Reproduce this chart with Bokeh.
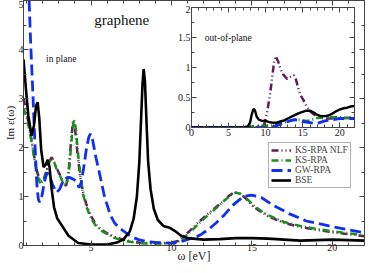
from bokeh.plotting import figure
from bokeh.models import (Range1d, LinearAxis, SingleIntervalTicker, Legend, LegendItem,
                          CustomJSTickFormatter)
from bokeh.layouts import column
from bokeh.core.properties import value
from bokeh.embed import file_html
from bokeh.resources import INLINE

# ---------------- data: in-plane (main) ----------------
bse_x = [0.8, 0.95, 1.1, 1.3, 1.45, 1.58, 1.68, 1.78, 1.9, 2.05, 2.2, 2.3, 2.42, 2.55, 2.7, 2.9, 3.2, 3.6,
         4.2, 5.0, 6.0, 6.6, 7.0, 7.4, 7.65, 7.85, 8.0, 8.1, 8.2, 8.27, 8.35, 8.45, 8.55, 8.7, 8.9, 9.15,
         9.5, 9.9, 10.2, 10.6, 11.0, 12.0, 13.0, 14.0, 15.0, 16.0, 17.0, 18.0, 19.0, 20.0, 21.0, 22.0]
bse_y = [3.8, 3.2, 2.65, 2.24, 2.45, 2.85, 2.92, 2.6, 1.95, 1.6, 1.66, 1.75, 1.6, 1.15, 0.78, 0.55, 0.4, 0.2,
         0.05, 0.02, 0.02, 0.06, 0.12, 0.28, 0.55, 1.0, 1.7, 2.5, 3.3, 3.6, 3.35, 2.5, 1.7, 1.15, 0.75, 0.52,
         0.4, 0.36, 0.3, 0.2, 0.15, 0.12, 0.13, 0.15, 0.15, 0.14, 0.12, 0.10, 0.11, 0.12, 0.11, 0.10]

nlf_x = [0.8, 1.0, 1.2, 1.35, 1.5, 1.65, 1.85, 2.05, 2.25, 2.4, 2.55, 2.7, 2.9, 3.1, 3.3, 3.45, 3.6, 3.75,
         3.87, 4.0, 4.15, 4.3, 4.5, 4.7, 5.0, 5.3, 5.6, 6.0, 6.5, 7.0, 7.5, 8.0, 8.5, 9.0, 9.5, 10.0, 10.4,
         10.8, 11.2, 11.6, 12.0, 12.4, 12.8, 13.2, 13.6, 13.9, 14.2, 14.6, 15.0, 15.5, 16.0, 16.5, 17.0,
         18.0, 19.0, 20.0, 21.0, 22.0]
nlf_y = [3.0, 2.7, 2.35, 2.05, 1.75, 1.5, 1.3, 1.35, 1.55, 1.72, 1.8, 1.72, 1.55, 1.42, 1.25, 1.22, 1.5, 2.1,
         2.52, 2.4, 1.9, 1.45, 1.1, 0.85, 0.6, 0.43, 0.33, 0.25, 0.17, 0.12, 0.08, 0.06, 0.05, 0.05, 0.05,
         0.06, 0.09, 0.2, 0.32, 0.45, 0.57, 0.68, 0.79, 0.9, 1.02, 1.09, 1.07, 0.97, 0.82, 0.7, 0.6, 0.53,
         0.46, 0.38, 0.32, 0.27, 0.23, 0.19]

ks_x = [0.8, 1.0, 1.2, 1.35, 1.5, 1.65, 1.85, 2.05, 2.25, 2.4, 2.57, 2.7, 2.9, 3.1, 3.3, 3.5, 3.65, 3.8,
        3.93, 4.05, 4.2, 4.35, 4.5, 4.7, 5.0, 5.3, 5.6, 6.0, 6.5, 7.0, 7.5, 8.0, 8.5, 9.0, 9.5, 10.0, 10.5,
        10.9, 11.3, 11.7, 12.1, 12.5, 12.9, 13.3, 13.7, 14.0, 14.3, 14.7, 15.1, 15.6, 16.0, 16.5, 17.0,
        18.0, 19.0, 20.0, 21.0, 22.0]
ks_y = [2.8, 2.6, 2.3, 2.02, 1.72, 1.45, 1.25, 1.32, 1.52, 1.7, 1.78, 1.7, 1.52, 1.4, 1.24, 1.25, 1.6, 2.2,
        2.58, 2.4, 1.85, 1.4, 1.05, 0.8, 0.55, 0.4, 0.31, 0.23, 0.15, 0.1, 0.07, 0.05, 0.04, 0.04, 0.04,
        0.05, 0.09, 0.2, 0.32, 0.45, 0.57, 0.68, 0.8, 0.92, 1.03, 1.08, 1.05, 0.95, 0.82, 0.7, 0.62, 0.55,
        0.48, 0.4, 0.34, 0.29, 0.25, 0.21]

gw_x = [1.15, 1.25, 1.39, 1.47, 1.55, 1.63, 1.72, 1.8, 1.95, 2.1, 2.25, 2.4, 2.6, 2.85, 3.05, 3.26, 3.45,
        3.65, 3.85, 4.06, 4.26, 4.4, 4.55, 4.7, 4.85, 4.96, 5.1, 5.3, 5.56, 5.8, 5.96, 6.2, 6.46, 6.8,
        7.16, 7.5, 7.96, 8.5, 9.16, 9.96, 10.5, 10.97, 11.5, 11.87, 12.3, 12.77, 13.3, 13.77, 14.47,
        14.97, 15.58, 16.38, 17.38, 18.38, 19.79, 21.0, 22.0]
gw_y = [5.0, 4.1, 3.05, 2.4, 1.8, 1.25, 0.95, 0.88, 1.02, 1.3, 1.48, 1.45, 1.25, 1.08, 1.15, 1.32, 1.37,
        1.39, 1.36, 1.32, 1.18, 1.3, 1.6, 1.95, 2.2, 2.28, 2.15, 1.8, 1.42, 1.05, 0.87, 0.62, 0.46, 0.35,
        0.26, 0.18, 0.12, 0.08, 0.06, 0.05, 0.07, 0.12, 0.17, 0.23, 0.33, 0.46, 0.63, 0.81, 1.0,
        1.03, 0.98, 0.81, 0.64, 0.5, 0.4, 0.32, 0.26]

# ---------------- data: out-of-plane (inset) ----------------
bse_o_x = [0, 7.0, 7.6, 7.9, 8.1, 8.3, 8.45, 8.6, 8.8, 9.1, 9.5, 10.0, 10.5, 11.0, 11.5, 12.0, 12.5, 13.0,
           13.5, 14.0, 14.5, 15.0, 15.5, 16.0, 16.5, 17.0, 17.5, 18.0, 18.5, 19.0, 19.5, 20.0, 20.5, 21.0,
           21.5, 22.0]
bse_o_y = [0.0, 0.0, 0.02, 0.08, 0.2, 0.29, 0.31, 0.27, 0.18, 0.13, 0.11, 0.11, 0.09, 0.08, 0.08, 0.1,
           0.12, 0.15, 0.18, 0.21, 0.24, 0.26, 0.28, 0.28, 0.25, 0.21, 0.19, 0.19, 0.2, 0.23, 0.27, 0.30,
           0.32, 0.33, 0.35, 0.36]

nlf_o_x = [0, 8.5, 9.3, 9.8, 10.2, 10.6, 10.9, 11.15, 11.35, 11.7, 12.0, 12.4, 12.9, 13.3, 13.8, 14.1,
           14.4, 14.7, 15.1, 15.5, 16.0, 16.5, 17.0, 17.5, 18.0, 19.0, 20.0, 21.0, 22.0]
nlf_o_y = [0, 0, 0.01, 0.05, 0.25, 0.55, 0.85, 1.1, 1.19, 1.1, 0.98, 0.88, 0.81, 0.84, 0.87, 0.8,
           0.66, 0.54, 0.46, 0.36, 0.27, 0.22, 0.18, 0.16, 0.15, 0.15, 0.16, 0.16, 0.17]

ks_o_x = [0, 7.8, 8.3, 8.8, 9.3, 10.0, 11.0, 12.0, 13.0, 13.5, 14.0, 14.5, 15.0, 15.5, 16.0, 16.5, 17.0,
          18.0, 19.0, 20.0, 21.0, 22.0]
ks_o_y = [0, 0, 0.02, 0.03, 0.03, 0.03, 0.04, 0.07, 0.1, 0.12, 0.13, 0.13, 0.12, 0.11, 0.12, 0.14, 0.16,
          0.17, 0.17, 0.17, 0.16, 0.16]

gw_o_x = [0, 10.5, 11.0, 11.5, 12.0, 12.5, 13.0, 13.5, 14.0, 14.5, 15.0, 15.5, 16.0, 16.5, 17.0, 17.5,
          18.0, 18.5, 19.0, 20.0, 21.0, 22.0]
gw_o_y = [0, 0, 0.01, 0.03, 0.05, 0.08, 0.1, 0.12, 0.13, 0.12, 0.1, 0.09, 0.08, 0.07, 0.07, 0.09,
          0.11, 0.12, 0.13, 0.15, 0.15, 0.15]

series_names = ["KS-RPA NLF", "KS-RPA", "GW-RPA", "BSE"]

# ---------------- styles ----------------
FONT = "Liberation Serif"
C_NLF, C_KS, C_GW, C_BSE = "#641c55", "#1e8c1e", "#1030f0", "#000000"
D_NLF, D_KS, D_GW = "7 3 1 3 1 3", "7 3 1 3", "11 5"
AX = "#444444"


def style_axis(ax, size="10px", show_labels=True):
    ax.axis_line_color = AX
    ax.major_tick_line_color = AX
    ax.minor_tick_line_color = AX
    ax.major_tick_in = 5
    ax.major_tick_out = 0
    ax.minor_tick_in = 3
    ax.minor_tick_out = 0
    ax.major_label_text_font = FONT
    ax.major_label_text_font_size = size
    ax.major_label_text_color = "#222222"
    ax.major_label_standoff = 1
    ax.axis_label_text_font = FONT
    ax.axis_label_text_font_style = "normal"
    ax.axis_label_text_color = "#222222"
    if not show_labels:
        ax.formatter = CustomJSTickFormatter(code="return ''")
        ax.major_label_standoff = 0


# ---------------- main figure ----------------
p = figure(width=366, height=265, output_backend="svg", toolbar_location=None,
           x_range=Range1d(0.8, 22), y_range=Range1d(0, 5),
           min_border_left=0, min_border_right=2, min_border_top=0, min_border_bottom=0)
p.background_fill_color = "white"
p.border_fill_color = "white"
p.outline_line_color = AX
p.grid.visible = False
p.xaxis.ticker = SingleIntervalTicker(interval=5, num_minor_ticks=5)
p.yaxis.ticker = SingleIntervalTicker(interval=1, num_minor_ticks=2)
p.xaxis.axis_label = "ω [eV]"
p.yaxis.axis_label = "Im ε(ω)"
for ax in p.xaxis + p.yaxis:
    style_axis(ax)
p.xaxis.axis_label_text_font_size = "12px"
p.yaxis.axis_label_text_font_size = "11px"
p.xaxis.major_label_standoff = -2
p.xaxis.axis_label_standoff = -5
p.yaxis.major_label_standoff = 0
p.yaxis.axis_label_standoff = 0

top_ax = LinearAxis(ticker=SingleIntervalTicker(interval=5, num_minor_ticks=5))
right_ax = LinearAxis(ticker=SingleIntervalTicker(interval=1, num_minor_ticks=2))
style_axis(top_ax, show_labels=False)
style_axis(right_ax, show_labels=False)
p.add_layout(top_ax, "above")
p.add_layout(right_ax, "right")

r_nlf = p.line(nlf_x, nlf_y, line_color=C_NLF, line_width=2.5, line_dash=D_NLF)
r_ks = p.line(ks_x, ks_y, line_color=C_KS, line_width=2.5, line_dash=D_KS)
r_gw = p.line(gw_x, gw_y, line_color=C_GW, line_width=2.8, line_dash=D_GW)
r_bse = p.line(bse_x, bse_y, line_color=C_BSE, line_width=2.6)

p.text(x=[5.2], y=[4.6], text=["graphene"], text_font=value(FONT), text_font_size="15px",
       text_baseline="middle", text_align="left", text_color="#111111")
p.text(x=[2.2], y=[3.81], text=["in plane"], text_font=value(FONT), text_font_size="9.5px",
       text_baseline="middle", text_align="left", text_color="#111111")

legend = Legend(items=[LegendItem(label=n, renderers=[r]) for n, r in
                       zip(series_names, [r_nlf, r_ks, r_gw, r_bse])],
                location=(245, 57))
legend.label_text_font = FONT
legend.label_text_font_size = "9.5px"
legend.label_height = 10
legend.glyph_height = 10
legend.glyph_width = 20
legend.label_standoff = 4
legend.spacing = 0
legend.padding = 2
legend.margin = 0
legend.border_line_color = "#666666"
legend.border_line_width = 1
legend.background_fill_color = "white"
p.add_layout(legend, "center")

# ---------------- inset ----------------
inset = figure(width=188, height=140, output_backend="svg", toolbar_location=None,
               x_range=Range1d(0, 22), y_range=Range1d(0, 2),
               min_border_left=20, min_border_right=2, min_border_top=2, min_border_bottom=18,
               margin=(-260, 0, 120, 168))
inset.outline_line_color = AX
inset.grid.visible = False
inset.background_fill_color = "white"
inset.border_fill_alpha = 0
inset.xaxis.ticker = SingleIntervalTicker(interval=5, num_minor_ticks=5)
inset.yaxis.ticker = SingleIntervalTicker(interval=0.5, num_minor_ticks=2)
inset.yaxis.major_label_overrides = {0: "0", 0.5: "0.5", 1: "1", 1.5: "1.5", 2: "2"}
for ax in inset.xaxis + inset.yaxis:
    style_axis(ax)
itop = LinearAxis(ticker=SingleIntervalTicker(interval=5, num_minor_ticks=5))
iright = LinearAxis(ticker=SingleIntervalTicker(interval=0.5, num_minor_ticks=2))
style_axis(itop, show_labels=False)
style_axis(iright, show_labels=False)
inset.add_layout(itop, "above")
inset.add_layout(iright, "right")

inset.line(nlf_o_x, nlf_o_y, line_color=C_NLF, line_width=2.5, line_dash=D_NLF)
inset.line(ks_o_x, ks_o_y, line_color=C_KS, line_width=2.5, line_dash=D_KS)
inset.line(gw_o_x, gw_o_y, line_color=C_GW, line_width=2.8, line_dash=D_GW)
inset.line(bse_o_x, bse_o_y, line_color=C_BSE, line_width=2.4)
inset.text(x=[1.8], y=[1.5], text=["out-of-plane"], text_font=value(FONT), text_font_size="9.5px",
           text_baseline="middle", text_align="left", text_color="#111111")

layout = column(p, inset, spacing=0)
open("out.html", "w").write(file_html(layout, INLINE))
